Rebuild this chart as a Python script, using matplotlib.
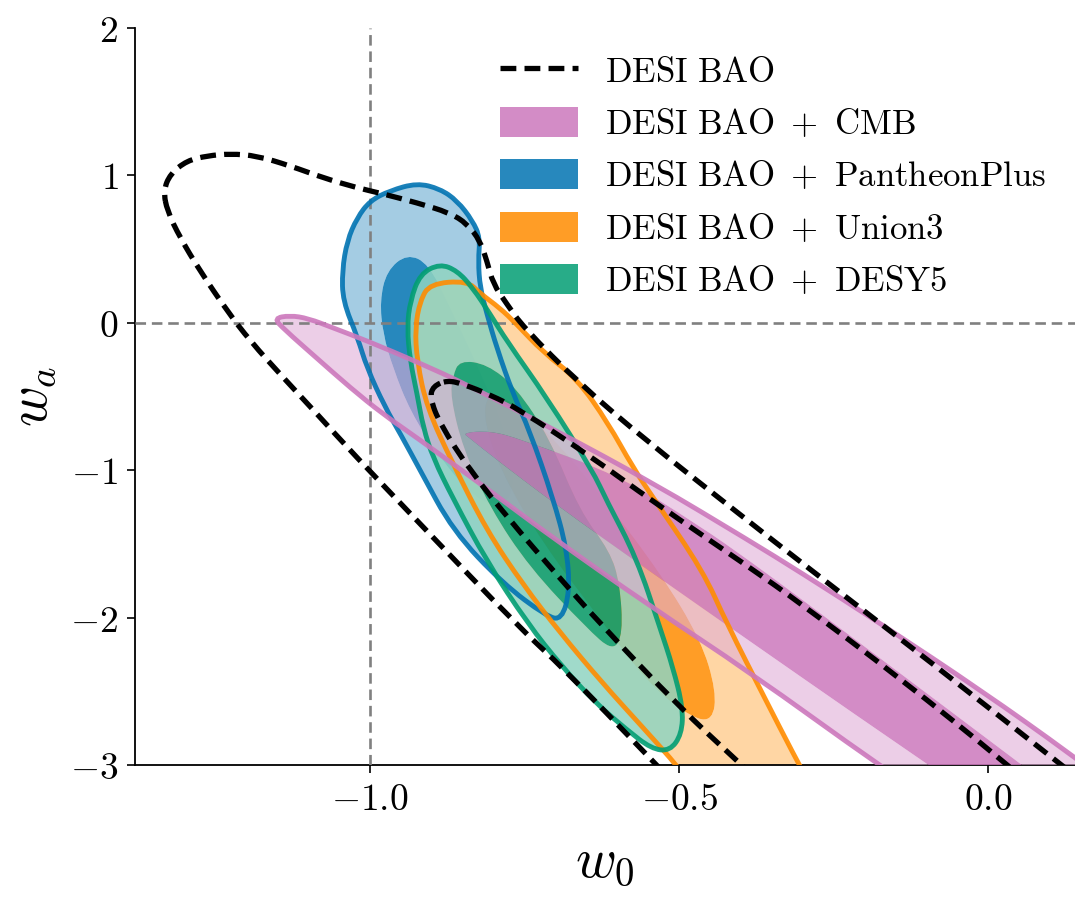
import numpy as np
import matplotlib
matplotlib.use("Agg")
import matplotlib.pyplot as plt
from matplotlib.path import Path
from matplotlib.patches import PathPatch, Patch
from matplotlib.lines import Line2D
from matplotlib.ticker import FuncFormatter, FixedLocator

plt.rcParams["mathtext.fontset"] = "cm"
plt.rcParams["font.family"] = ["DejaVu Serif"]

# ---------------- data (contour outlines, in (w0, wa)) -------------
labels = ["DESI BAO", "DESI BAO + CMB", "DESI BAO + PantheonPlus",
          "DESI BAO + Union3", "DESI BAO + DESY5"]
x_ticks = [-1.0, -0.5, 0.0]
y_ticks = [-3, -2, -1, 0, 1, 2]

# DESI BAO (dashed, unfilled)
desi_2s_w0 = [-1.334, -1.323, -1.296, -1.263, -1.226, -1.183, -1.129, -1.076, -1.021, -0.979,
              -0.924, -0.871, -0.843, -0.822, -0.811, -0.801, -0.779, -0.752, -0.661, -0.553,
              -0.402, -0.300, -0.090, 0.115, 0.300, -0.400, -0.548, -0.688, -0.758, -0.919,
              -1.027, -1.086, -1.140, -1.194, -1.231, -1.275, -1.307, -1.328]
desi_2s_wa = [0.896, 1.010, 1.100, 1.133, 1.147, 1.133, 1.065, 0.984, 0.916, 0.875,
              0.814, 0.746, 0.672, 0.556, 0.420, 0.265, 0.129, -0.030, -0.414, -0.800,
              -1.300, -1.635, -2.313, -2.990, -3.600, -3.600, -2.950, -2.340, -2.070, -1.364,
              -0.889, -0.617, -0.373, -0.122, 0.081, 0.353, 0.577, 0.760]
desi_1s_w0 = [-0.875, -0.850, -0.805, -0.758, -0.649, -0.540, -0.386, -0.305, -0.144, 0.029,
              0.200, -0.245, -0.407, -0.499, -0.628, -0.704, -0.769, -0.838, -0.887, -0.903, -0.898]
desi_1s_wa = [-0.390, -0.415, -0.490, -0.590, -0.889, -1.220, -1.660, -1.900, -2.408, -2.990,
              -3.600, -3.600, -2.970, -2.610, -2.040, -1.680, -1.364, -1.004, -0.685, -0.510, -0.430]

# DESI BAO + CMB
cmb_2s_w0 = [-1.155, -1.130, -1.100, -1.060, -1.005, -0.924, -0.843, -0.704, -0.543, -0.386,
             -0.305, -0.171, -0.010, 0.131, 0.300, 0.100, -0.181, -0.386, -0.548, -0.709,
             -0.817, -0.924, -0.979, -1.032, -1.086, -1.140]
cmb_2s_wa = [0.030, 0.050, 0.030, -0.034, -0.122, -0.265, -0.420, -0.720, -1.085, -1.480,
             -1.690, -2.050, -2.500, -2.920, -3.450, -3.800, -2.990, -2.370, -1.920, -1.445,
             -1.106, -0.780, -0.620, -0.440, -0.240, -0.040]
cmb_1s_w0 = [-0.850, -0.806, -0.758, -0.596, -0.467, -0.386, -0.305, -0.144, 0.045, 0.180,
             0.040, -0.100, -0.208, -0.386, -0.543, -0.704, -0.795, -0.840]
cmb_1s_wa = [-0.745, -0.733, -0.787, -1.038, -1.377, -1.615, -1.866, -2.374, -2.970, -3.400,
             -3.400, -2.990, -2.680, -2.160, -1.700, -1.220, -0.930, -0.780]

# DESI BAO + PantheonPlus
pp_2s_w0 = [-0.924, -0.887, -0.859, -0.834, -0.822, -0.825, -0.822, -0.811, -0.795, -0.769,
            -0.742, -0.704, -0.682, -0.677, -0.690, -0.715, -0.785, -0.866, -0.919, -0.950,
            -0.976, -1.005, -1.020, -1.044, -1.045, -1.037, -1.021, -1.000, -0.968]
pp_2s_wa = [0.948, 0.909, 0.828, 0.692, 0.577, 0.420, 0.238, 0.061, -0.170, -0.480,
            -0.730, -1.190, -1.530, -1.820, -2.015, -1.990, -1.770, -1.410, -1.000, -0.760,
            -0.570, -0.305, -0.100, 0.149, 0.353, 0.556, 0.712, 0.828, 0.896]
pp_1s_w0 = [-0.940, -0.905, -0.870, -0.825, -0.785, -0.765, -0.780, -0.830, -0.890, -0.935,
            -0.963, -0.979, -0.984, -0.973]
pp_1s_wa = [0.468, 0.400, 0.100, -0.300, -0.700, -1.050, -1.250, -1.200, -0.900, -0.600,
            -0.305, -0.075, 0.149, 0.353]

# DESI BAO + Union3
u3_2s_w0 = [-0.843, -0.822, -0.790, -0.765, -0.720, -0.665, -0.615, -0.575, -0.540, -0.462,
            -0.423, -0.360, -0.316, -0.280, -0.450, -0.500, -0.560, -0.625, -0.693, -0.752,
            -0.811, -0.866, -0.908, -0.924, -0.927, -0.919, -0.903]
u3_2s_wa = [0.285, 0.200, 0.100, 0.000, -0.200, -0.380, -0.680, -0.980, -1.200, -1.680,
            -2.040, -2.560, -2.920, -3.200, -3.300, -3.020, -2.740, -2.440, -2.100, -1.780,
            -1.410, -0.957, -0.577, -0.258, -0.034, 0.149, 0.265]
u3_1s_w0 = [-0.800, -0.720, -0.620, -0.530, -0.465, -0.440, -0.446, -0.480, -0.550, -0.630,
            -0.720, -0.790, -0.820]
u3_1s_wa = [-0.450, -0.700, -1.200, -1.700, -2.150, -2.500, -2.700, -2.680, -2.450, -2.000,
            -1.500, -1.000, -0.600]

# DESI BAO + DESY5
dy5_2s_w0 = [-0.887, -0.859, -0.834, -0.806, -0.779, -0.714, -0.640, -0.617, -0.569, -0.531,
             -0.510, -0.494, -0.496, -0.515, -0.545, -0.585, -0.635, -0.690, -0.745, -0.811,
             -0.866, -0.898, -0.914, -0.924, -0.935, -0.940, -0.935, -0.919]
dy5_2s_wa = [0.400, 0.353, 0.238, 0.061, -0.122, -0.509, -1.004, -1.210, -1.594, -2.070,
             -2.340, -2.610, -2.790, -2.905, -2.890, -2.760, -2.580, -2.330, -2.040, -1.620,
             -1.190, -0.916, -0.710, -0.480, -0.258, -0.034, 0.149, 0.332]
dy5_1s_w0 = [-0.855, -0.811, -0.763, -0.710, -0.661, -0.612, -0.596, -0.591, -0.607, -0.650,
             -0.742, -0.806, -0.850, -0.870, -0.866]
dy5_1s_wa = [-0.255, -0.280, -0.440, -0.780, -1.275, -1.550, -1.770, -2.110, -2.230, -2.070,
             -1.660, -1.255, -0.850, -0.500, -0.360]

colors = {"cmb": "#CC78BC", "pp": "#0173B2", "u3": "#FF8C00", "dy5": "#029E73"}


# ---------------- helpers ----------------
def _area(w0, wa):
    x = np.asarray(w0, float); y = np.asarray(wa, float)
    return 0.5 * np.sum(x * np.roll(y, -1) - np.roll(x, -1) * y)


def smooth_loop(w0, wa, ccw=True):
    """Closed quadratic-Bezier path through the outline points (data coords)."""
    x = list(w0); y = list(wa)
    if (_area(x, y) > 0) != ccw:
        x, y = x[::-1], y[::-1]
    pts = np.column_stack([x, y])
    mids = (pts + np.roll(pts, -1, axis=0)) / 2.0
    verts = [mids[-1]]
    codes = [Path.MOVETO]
    for i in range(len(pts)):
        verts += [pts[i], mids[i]]
        codes += [Path.CURVE3, Path.CURVE3]
    verts.append(mids[-1])
    codes.append(Path.CLOSEPOLY)
    return np.array(verts), codes


def loop_path(w0, wa):
    v, c = smooth_loop(w0, wa)
    return Path(v, c)


def ring_path(o_w0, o_wa, i_w0, i_wa):
    v1, c1 = smooth_loop(o_w0, o_wa, ccw=True)
    v2, c2 = smooth_loop(i_w0, i_wa, ccw=False)
    return Path(np.vstack([v1, v2]), c1 + c2)


def lighten(c, t):
    rgb = np.array(matplotlib.colors.to_rgb(c))
    return tuple(rgb + (1 - rgb) * t)


# ---------------- figure ----------------
fig = plt.figure(figsize=(10.75, 8.97), dpi=100)
ax = fig.add_axes([135 / 1075, 132 / 897, 940 / 1075, 737 / 897])

sets = [
    ("pp", pp_2s_w0, pp_2s_wa, pp_1s_w0, pp_1s_wa, 0.85, 0.58),
    ("u3", u3_2s_w0, u3_2s_wa, u3_1s_w0, u3_1s_wa, 0.85, 0.58),
    ("dy5", dy5_2s_w0, dy5_2s_wa, dy5_1s_w0, dy5_1s_wa, 0.85, 0.56),
    ("cmb", cmb_2s_w0, cmb_2s_wa, cmb_1s_w0, cmb_1s_wa, 0.60, 0.40),
]
for z, (key, o0, oa, i0, ia, a2, t2) in enumerate(sets):
    col = colors[key]
    ax.add_patch(PathPatch(ring_path(o0, oa, i0, ia), facecolor=lighten(col, t2),
                           edgecolor="none", alpha=a2, zorder=1 + z))
    ax.add_patch(PathPatch(loop_path(i0, ia), facecolor=col, edgecolor="none",
                           alpha=0.85, zorder=1 + z))

ax.axvline(-1.0, color="0.5", lw=1.9, ls=(0, (4.0, 2.2)), zorder=5)
ax.axhline(0.0, color="0.5", lw=1.9, ls=(0, (4.0, 2.2)), zorder=5)

for key, o0, oa, *_ in sets:
    ax.add_patch(PathPatch(loop_path(o0, oa), facecolor="none", edgecolor=colors[key],
                           lw=3.5, alpha=0.9, zorder=6))

dash = (0, (3.0, 1.55))
ax.add_patch(PathPatch(loop_path(desi_2s_w0, desi_2s_wa), facecolor="none",
                       edgecolor="black", lw=3.8, ls=dash, zorder=7))
ax.add_patch(PathPatch(loop_path(desi_1s_w0, desi_1s_wa), facecolor="none",
                       edgecolor="black", lw=3.8, ls=dash, zorder=7))

ax.set_xlim(-1.38, 0.14)
ax.set_ylim(-3, 2)

ax.xaxis.set_major_locator(FixedLocator(x_ticks))
ax.yaxis.set_major_locator(FixedLocator(y_ticks))
ax.xaxis.set_major_formatter(FuncFormatter(lambda v, p: "$%.1f$" % v))
ax.yaxis.set_major_formatter(FuncFormatter(lambda v, p: "$%d$" % round(v)))
ax.tick_params(direction="out", length=6, width=1.2, labelsize=27, pad=6)
for s in ["top", "right"]:
    ax.spines[s].set_visible(False)
for s in ["left", "bottom"]:
    ax.spines[s].set_linewidth(1.3)

ax.set_xlabel(r"$w_0$", fontsize=40, labelpad=12)
ax.set_ylabel(r"$w_a$", fontsize=40, labelpad=8)

handles = [Line2D([], [], color="black", lw=3.8, ls=dash)]
for key in ["cmb", "pp", "u3", "dy5"]:
    handles.append(Patch(facecolor=colors[key], alpha=0.85, edgecolor="none"))
leg_labels = [r"$\mathrm{DESI\ BAO}$",
              r"$\mathrm{DESI\ BAO}\ +\ \mathrm{CMB}$",
              r"$\mathrm{DESI\ BAO}\ +\ \mathrm{PantheonPlus}$",
              r"$\mathrm{DESI\ BAO}\ +\ \mathrm{Union3}$",
              r"$\mathrm{DESI\ BAO}\ +\ \mathrm{DESY5}$"]
ax.legend(handles, leg_labels, loc="upper left", bbox_to_anchor=(0.388, 0.964),
          frameon=False, fontsize=25, handlelength=2.25, handleheight=0.95,
          handletextpad=0.78, labelspacing=0.53, borderpad=0, borderaxespad=0)

fig.savefig("out.png", dpi=100)
